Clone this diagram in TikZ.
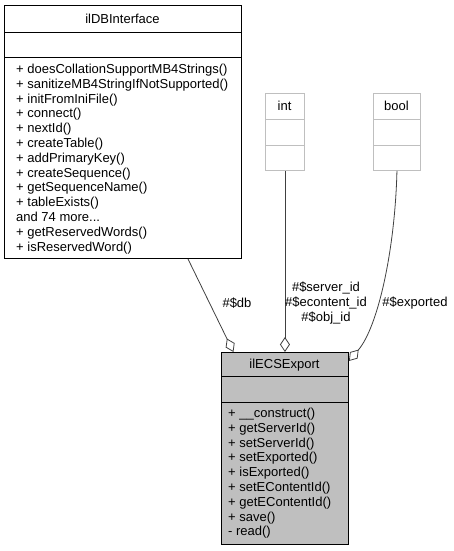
\documentclass[tikz,border=0pt]{standalone}
\usepackage{fontspec}
\setmainfont{Liberation Sans}
\usetikzlibrary{arrows.meta}

\begin{document}
\begin{tikzpicture}[x=1pt,y=-1pt,
    font=\fontsize{13}{14.8}\selectfont,
    class/.style={draw,line width=0.9pt,rectangle,anchor=north west,inner sep=0pt},
    member/.style={anchor=base west,inner sep=0pt},
    tag/.style={inner sep=0pt,align=center},
    link/.style={draw=black!75,line width=0.8pt,-{Diamond[open,length=15pt,width=10pt]}}]
    \useasboundingbox (0,0) rectangle (454,551);
    \def\more{and 74 more...}
    % ilDBInterface
    \node[class,minimum width=237pt,minimum height=253pt] (db) at (4,5) {};
    \draw[line width=0.9pt] (4,32) -- (241,32) (4,57) -- (241,57);
    \node[anchor=base] (dbname) at (122.5,23.2) {ilDBInterface};
    \foreach \m [count=\i from 0] in {+ doesCollationSupportMB4Strings(),
      + sanitizeMB4StringIfNotSupported(), + initFromIniFile(), + connect(),
      + nextId(), + createTable(), + addPrimaryKey(), + createSequence(),
      + getSequenceName(), + tableExists(), \more, + getReservedWords(),
      + isReservedWord()} {
      \node[member] (db-\i) at (16,{73.5+14.8*\i}) {\m};
    }
    % int and bool
    \foreach \n/\x/\w in {int/265/39,bool/373/47} {
      \node[class,draw=black!25,minimum width=\w pt,minimum height=77pt] (\n) at (\x,93) {};
      \draw[black!25,line width=0.9pt] (\x,119) -- +(\w,0) (\x,145) -- +(\w,0);
      \node[anchor=base] (\n name) at ({\x+\w/2},110.7) {\n};
    }
    % ilECSExport
    \node[class,fill=black!25,minimum width=127pt,minimum height=192pt] (ecs) at (221,352) {};
    \draw[line width=0.9pt] (221,376) -- (348,376) (221,402) -- (348,402);
    \node[anchor=base] (ecsname) at (284.5,368.7) {ilECSExport};
    \foreach \m [count=\i from 0] in {+ \_\_construct(), + getServerId(),
      + setServerId(), + setExported(), + isExported(), + setEContentId(),
      + getEContentId(), + save(), - read()} {
      \node[member] (ecs-\i) at (228,{417.5+14.8*\i}) {\m};
    }
    % links
    \draw[link] ([xshift=65pt]db.south) -- ([xshift=-51.5pt]ecs.north);
    \draw[link] (int.south) -- (ecs.north);
    \draw[link] (bool.south) .. controls (395,250) and (378,327) .. ([yshift=-9pt]ecs.north east);
    \node[tag] (dbtag) at (237,303) {\#\$db};
    \node[tag] (inttag) at (326,303) {\#\$server\_id\\\#\$econtent\_id\\\#\$obj\_id};
    \node[tag] (booltag) at (415,303) {\#\$exported};
  \end{tikzpicture}
\end{document}
